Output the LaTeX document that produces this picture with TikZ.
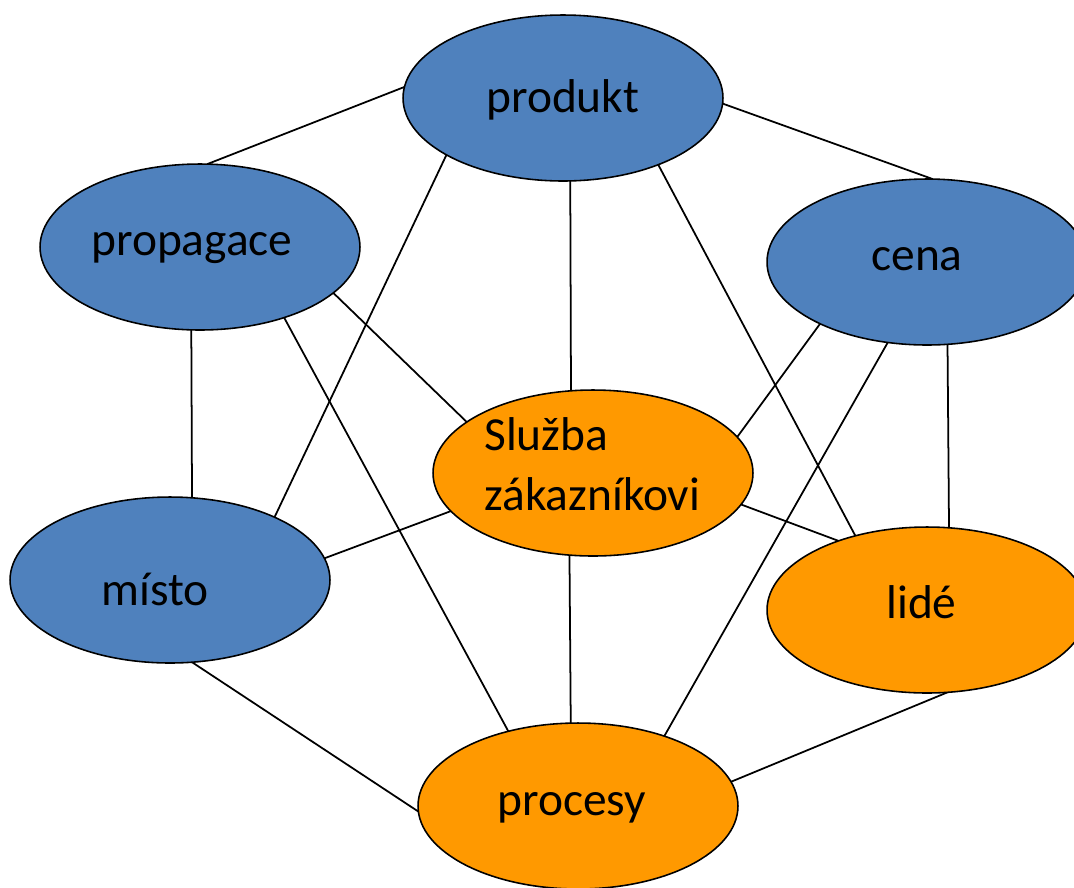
\documentclass[tikz,border=0pt]{standalone}
\usepackage{fontspec}
\setmainfont{Carlito}
\usetikzlibrary{shapes.geometric, backgrounds}
\definecolor{blueP}{HTML}{4F81BD}
\definecolor{orangeP}{HTML}{FF9900}

\begin{document}
\begin{tikzpicture}[
    x=0.02cm, y=-0.02cm,
    element/.style={ellipse, draw=black, line width=0.9pt, minimum width=6.4cm, minimum height=3.32cm, inner sep=0pt, outer sep=0pt},
    core/.style={element, fill=blueP},
    extra/.style={element, fill=orangeP},
    caption/.style={anchor=base west, inner sep=0pt, font=\fontsize{27}{34}\selectfont, align=left},
    every edge/.style={draw, line width=1pt}
]

\useasboundingbox (0,0) rectangle (1074,887);
\clip (0,0) rectangle (1074,887);

\node[core] (produkt) at (563,98) {};
\node[core] (propagace) at (200,247) {};
\node[core] (cena) at (927,262) {};
\node[extra] (sluzba) at (593,473) {};
\node[core] (misto) at (170,580) {};
\node[extra] (lide) at (927,610) {};
\node[extra] (procesy) at (578,806) {};

\node[caption] (produkt-t) at (486,112) {produkt};
\node[caption] (propagace-t) at (91,255) {propagace};
\node[caption] (cena-t) at (871,270) {cena};
\node[caption] (sluzba-t) at (484,510) {Služba\\zákazníkovi};
\node[caption] (misto-t) at (101,605) {místo};
\node[caption] (lide-t) at (886,618) {lidé};
\node[caption] (procesy-t) at (497,815) {procesy};

% Connections

\begin{scope}[on background layer]
\foreach \a/\b in {produkt.176/propagace.85, produkt.358/cena.86,
    produkt.275/sluzba.105.5, produkt.206/misto.31, produkt.325/lide.134,
    propagace.264.5/misto.75, propagace.341.6/sluzba.158,
    propagace.320/procesy.133.4, cena.210.5/sluzba.14.5,
    cena.244.5/procesy.39, cena.284/lide.75.8, sluzba.195/misto.8.3,
    sluzba.348.2/lide.142, sluzba.254.7/procesy.95.4,
    misto.285.5/procesy.182.5, lide.284.4/procesy.9}
    \path (\a) edge (\b);
\end{scope}

\end{tikzpicture}
\end{document}
